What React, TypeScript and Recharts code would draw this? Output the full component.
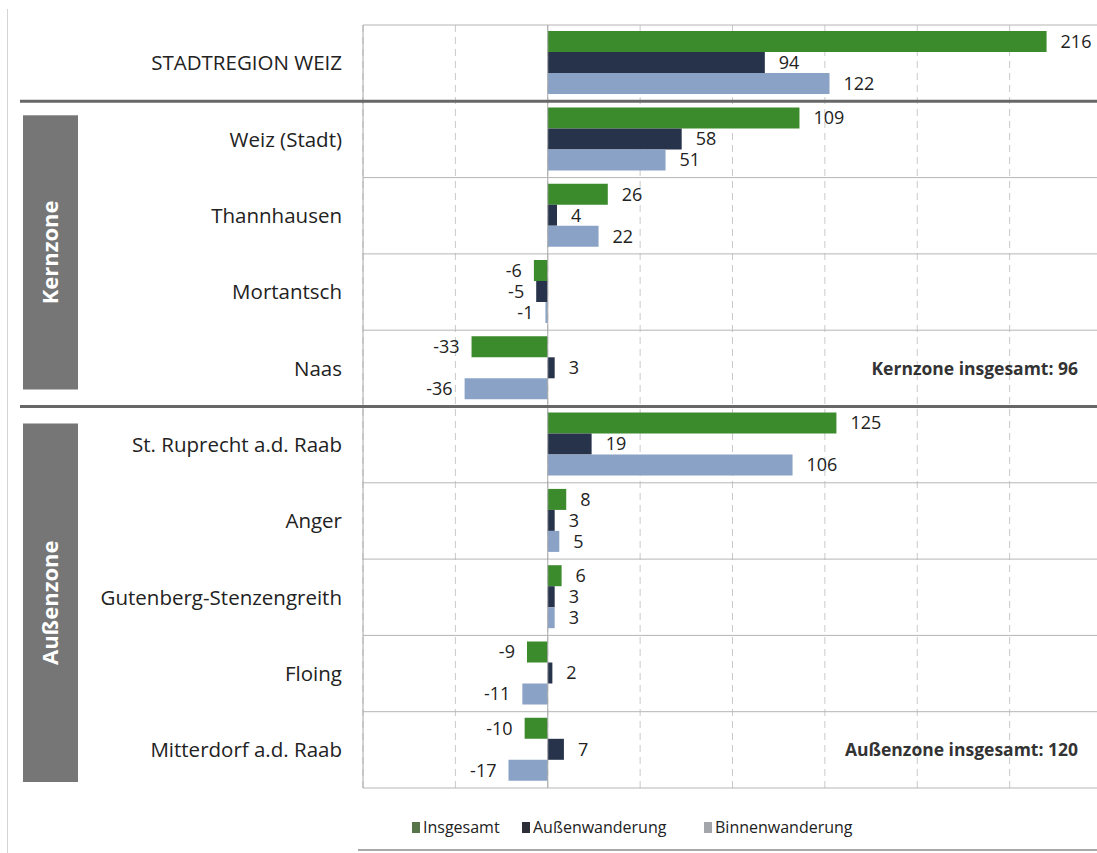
import React from 'react';
import {
  BarChart,
  Bar,
  XAxis,
  YAxis,
  CartesianGrid,
  ReferenceLine,
  LabelList
} from 'recharts';

// Wanderungssaldo je Gemeinde
const gemeinden = [
  'STADTREGION WEIZ',
  'Weiz (Stadt)',
  'Thannhausen',
  'Mortantsch',
  'Naas',
  'St. Ruprecht a.d. Raab',
  'Anger',
  'Gutenberg-Stenzengreith',
  'Floing',
  'Mitterdorf a.d. Raab'
];
const insgesamt = [216, 109, 26, -6, -33, 125, 8, 6, -9, -10];
const aussenwanderung = [94, 58, 4, -5, 3, 19, 3, 3, 2, 7];
const binnenwanderung = [122, 51, 22, -1, -36, 106, 5, 3, -11, -17];
const xTicks = [-80, -40, 0, 40, 80, 120, 160, 200, 240];

// Zonen (Indizes in gemeinden)
const kernzone = [1, 2, 3, 4];
const aussenzone = [5, 6, 7, 8, 9];

const FONT = '"Open Sans", "Noto Sans", sans-serif';
const GREEN = '#3b8a2c';
const NAVY = '#27334b';
const LIGHT = '#8aa2c6';

const CHART_W = 1105;
const CHART_H = 800;
const MARGIN = { top: 25, right: 3, bottom: 12, left: 20 };
const PLOT_H = CHART_H - MARGIN.top - MARGIN.bottom;
const ROW_H = PLOT_H / gemeinden.length;
const rowEdge = (i: number) => MARGIN.top + i * ROW_H;
const rowMid = (i: number) => MARGIN.top + (i + 0.5) * ROW_H;

const data = gemeinden.map((name, i) => ({
  name,
  insgesamt: insgesamt[i],
  aussen: aussenwanderung[i],
  binnen: binnenwanderung[i]
}));

const sumOf = (idx: number[]) => idx.reduce((s, i) => s + insgesamt[i], 0);

const renderValue = (props: any) => {
  const { x, y, width, height, value } = props;
  const v = Number(value);
  const left = Math.min(x, x + width);
  const right = Math.max(x, x + width);
  const neg = v < 0;
  return (
    <text
      x={neg ? left - 12 : right + 14}
      y={y + height / 2}
      dy="0.35em"
      textAnchor={neg ? 'end' : 'start'}
      fontSize={18}
      fill="#222"
      fontFamily={FONT}
    >
      {v}
    </text>
  );
};

const legendItems = [
  { label: 'Insgesamt', color: '#56764a', left: 412 },
  { label: 'Außenwanderung', color: '#2c2f38', left: 522 },
  { label: 'Binnenwanderung', color: '#a3a6ab', left: 704 }
];

const ZoneBox = ({ label, top, bottom }: { label: string; top: number; bottom: number }) => (
  <g>
    <rect x={23} y={top} width={55} height={bottom - top} fill="#767676" />
    <text
      x={50}
      y={(top + bottom) / 2}
      transform={`rotate(-90 50 ${(top + bottom) / 2})`}
      textAnchor="middle"
      dy="0.36em"
      fill="#fff"
      fontWeight="bold"
      fontSize={22}
      fontFamily={FONT}
    >
      {label}
    </text>
  </g>
);

export default function App() {
  return (
    <div
      style={{
        position: 'absolute',
        left: 0,
        top: 0,
        width: 1097,
        height: 853,
        overflow: 'hidden',
        background: '#fff',
        fontFamily: FONT
      }}
    >
      <div style={{ position: 'absolute', left: 7, top: 9, width: 1, height: 844, background: '#d4d4d4' }} />
      <div style={{ position: 'absolute', left: 0, top: 0 }}>
        <BarChart
          width={CHART_W}
          height={CHART_H}
          data={data}
          layout="vertical"
          margin={MARGIN}
          barCategoryGap="8%"
          barGap={0}
        >
          <CartesianGrid
            horizontal={false}
            stroke="#c9c9c9"
            strokeDasharray="7 5"
          />
          <CartesianGrid
            vertical={false}
            stroke="#b5b5b5"
            horizontalCoordinatesGenerator={({ offset }: any) =>
              gemeinden.map((_, i) => offset.top + (i * offset.height) / gemeinden.length)
                .concat([offset.top + offset.height])
            }
          />
          <XAxis type="number" domain={[-80, 240]} ticks={xTicks} hide />
          <YAxis
            type="category"
            dataKey="name"
            width={343}
            interval={0}
            axisLine={false}
            tickLine={false}
            tickSize={0}
            tickMargin={21}
            tick={{ fontSize: 20.5, fill: '#222', fontFamily: FONT }}
          />
          <ReferenceLine x={-80} stroke="#a8a8a8" />
          <ReferenceLine x={0} stroke="#a8a8a8" />
          <Bar dataKey="insgesamt" name="Insgesamt" fill={GREEN} isAnimationActive={false}>
            <LabelList dataKey="insgesamt" content={renderValue} />
          </Bar>
          <Bar dataKey="aussen" name="Außenwanderung" fill={NAVY} isAnimationActive={false}>
            <LabelList dataKey="aussen" content={renderValue} />
          </Bar>
          <Bar dataKey="binnen" name="Binnenwanderung" fill={LIGHT} isAnimationActive={false}>
            <LabelList dataKey="binnen" content={renderValue} />
          </Bar>
        </BarChart>
      </div>

      <svg
        width={1097}
        height={853}
        style={{ position: 'absolute', left: 0, top: 0, pointerEvents: 'none' }}
      >
        <line x1={20} x2={1097} y1={rowEdge(1)} y2={rowEdge(1)} stroke="#676767" strokeWidth={3} />
        <line x1={20} x2={1097} y1={rowEdge(5)} y2={rowEdge(5)} stroke="#676767" strokeWidth={3} />
        <ZoneBox label="Kernzone" top={rowEdge(1) + 14} bottom={rowEdge(5) - 17} />
        <ZoneBox label="Außenzone" top={rowEdge(5) + 17} bottom={rowEdge(10) - 6} />
        <text
          x={1078}
          y={rowMid(4)}
          dy="0.36em"
          textAnchor="end"
          fontWeight="bold"
          fontSize={17.5}
          fill="#333"
          fontFamily={FONT}
        >
          {`Kernzone insgesamt: ${sumOf(kernzone)}`}
        </text>
        <text
          x={1078}
          y={rowMid(9)}
          dy="0.36em"
          textAnchor="end"
          fontWeight="bold"
          fontSize={17.5}
          fill="#333"
          fontFamily={FONT}
        >
          {`Außenzone insgesamt: ${sumOf(aussenzone)}`}
        </text>
      </svg>

      {legendItems.map((item) => (
        <div
          key={item.label}
          style={{
            position: 'absolute',
            left: item.left,
            top: 816,
            display: 'flex',
            alignItems: 'center',
            fontSize: 16,
            color: '#222'
          }}
        >
          <span style={{ display: 'inline-block', width: 8, height: 11, background: item.color, marginRight: 3 }} />
          {item.label}
        </div>
      ))}
      <div style={{ position: 'absolute', left: 358, top: 849, width: 739, height: 2, background: '#a9a9a9' }} />
    </div>
  );
}
